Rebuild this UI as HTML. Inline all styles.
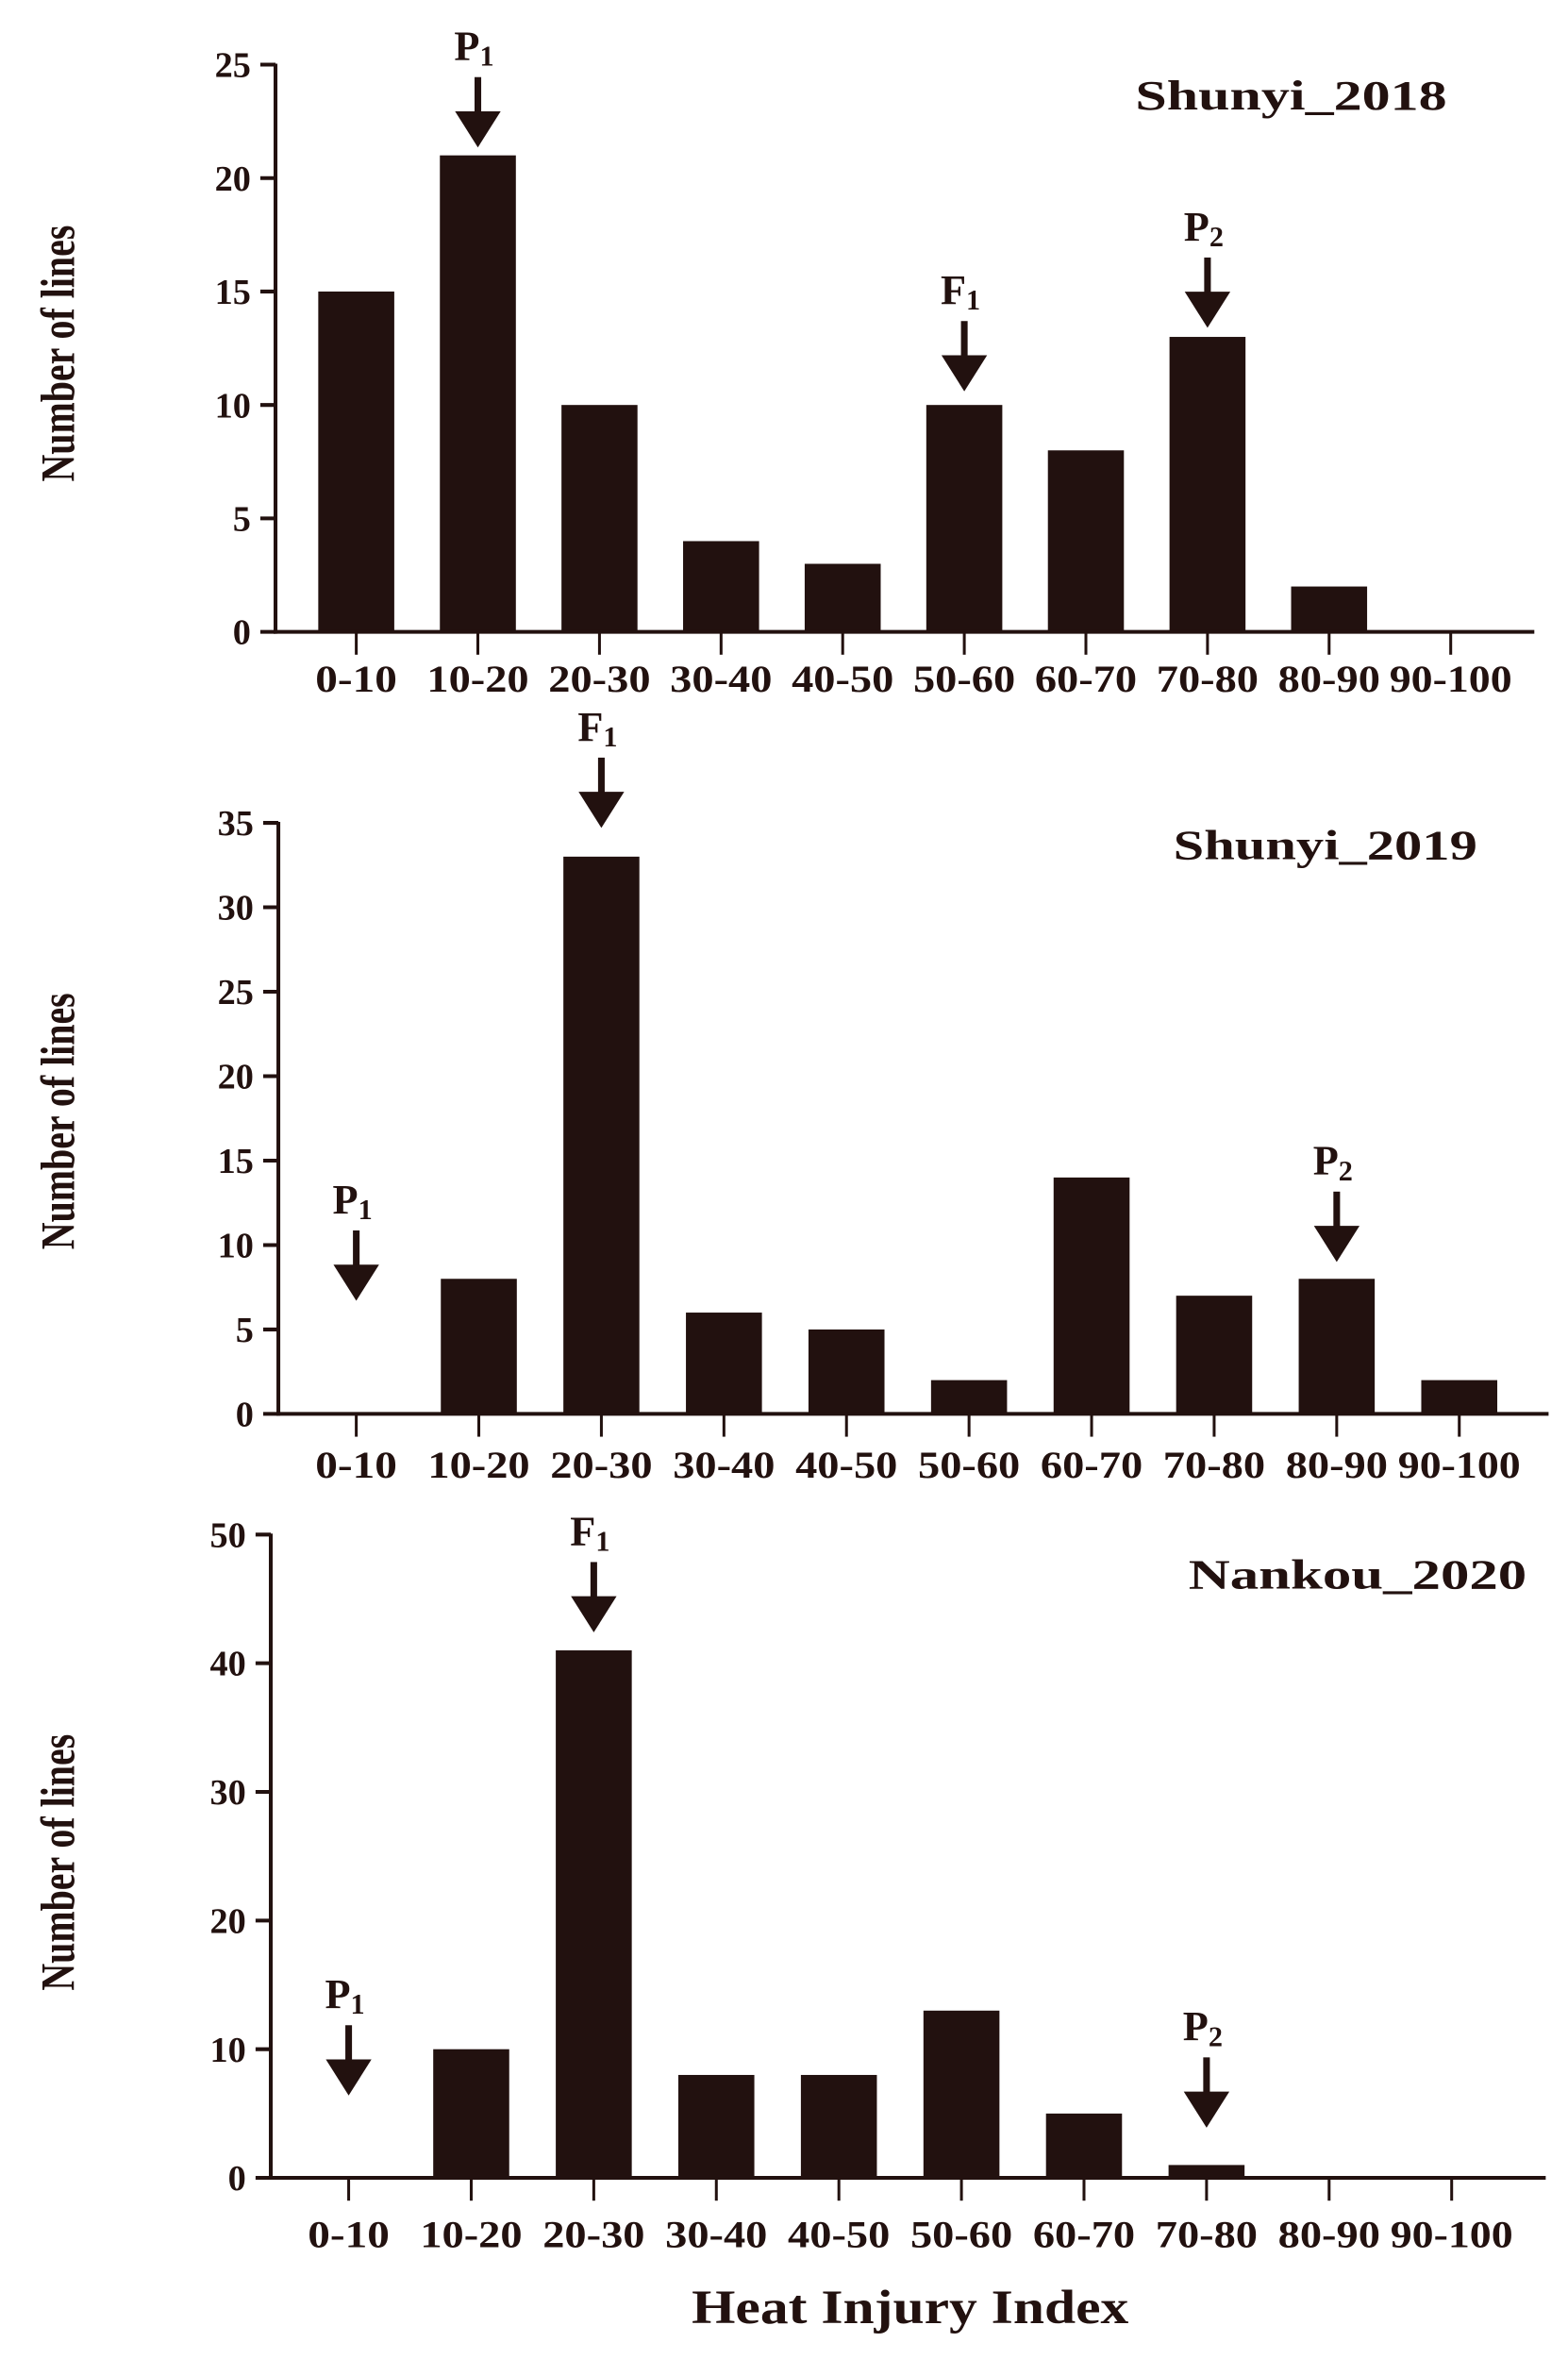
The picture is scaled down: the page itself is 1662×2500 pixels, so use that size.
<!DOCTYPE html>
<html><head><meta charset="utf-8"><style>
html,body{margin:0;padding:0;background:#fff;}
svg{display:block;}
text{font-family:"Liberation Serif",serif;font-weight:bold;fill:#22110f;}
</style></head><body>
<svg width="1662" height="2500" viewBox="0 0 1662 2500" xmlns="http://www.w3.org/2000/svg"><g id="fig" transform="scale(1.007)"></g></svg>
<script>
const categories = ["0-10","10-20","20-30","30-40","40-50","50-60","60-70","70-80","80-90","90-100"];
const values2018 = [15,21,10,4,3,10,8,13,2,0];
const values2019 = [0,8,33,6,5,2,14,7,8,2];
const values2020 = [0,10,41,8,8,13,5,1,0,0];
const ticks2018 = [0,5,10,15,20,25];
const ticks2019 = [0,5,10,15,20,25,30,35];
const ticks2020 = [0,10,20,30,40,50];
const arrowCats2018 = [1,5,7];
const arrowTips2018 = [21.35,10.6,13.4];
const arrowLabels2018 = ["P1","F1","P2"];
const arrowCats2019 = [2,0,8];
const arrowTips2019 = [34.7,6.7,9.0];
const arrowLabels2019 = ["F1","P1","P2"];
const arrowCats2020 = [2,0,7];
const arrowTips2020 = [42.4,6.4,3.9];
const arrowLabels2020 = ["F1","P1","P2"];

const NS = "http://www.w3.org/2000/svg";
const svg = document.getElementById('fig');
const C = "#22110f";
function mk(tag, attrs, parent){
  const e = document.createElementNS(NS, tag);
  for (const k in attrs) e.setAttribute(k, attrs[k]);
  (parent||svg).appendChild(e);
  return e;
}

const panels = [
  {id:"2018", title:"Shunyi_2018", vals:values2018, ticks:ticks2018, max:25, ax:290, y0:665, yTop:68, xEnd:1615, c0:375, step:128, ly:728, tx:1523, ty:115, titleW:328, aCats:arrowCats2018, aTips:arrowTips2018, aLab:arrowLabels2018, ylabY:372},
  {id:"2019", title:"Shunyi_2019", vals:values2019, ticks:ticks2019, max:35, ax:293, y0:1488, yTop:866, xEnd:1630, c0:375, step:129, ly:1555, tx:1555, ty:904, titleW:320, aCats:arrowCats2019, aTips:arrowTips2019, aLab:arrowLabels2019, ylabY:1180},
  {id:"2020", title:"Nankou_2020", vals:values2020, ticks:ticks2020, max:50, ax:285, y0:2292, yTop:1615, xEnd:1627, c0:367, step:129, ly:2365, tx:1607, ty:1672, titleW:356, aCats:arrowCats2020, aTips:arrowTips2020, aLab:arrowLabels2020, ylabY:1960}
];

panels.forEach(p => {
  const g = mk('g', {});
  
  
  const yScale = v => p.y0 - (v / p.max) * (p.y0 - p.yTop);
  const xScale = i => p.c0 + i * p.step;
  const bw = 80;
  p.vals.forEach((v, i) => {
    if (v <= 0) return;
    const r = mk('rect', {x: xScale(i) - bw/2, y: yScale(v), width: bw, height: p.y0 - yScale(v), fill: C}, g);
    
    
  });
  const ya = mk('line', {x1:p.ax, y1:p.yTop-1, x2:p.ax, y2:p.y0+2, stroke:C, 'stroke-width':4}, g);
  
  
  p.ticks.forEach(t => {
    const y = yScale(t);
    mk('line', {x1:p.ax-16, y1:y, x2:p.ax, y2:y, stroke:C, 'stroke-width':4}, g);
    const s = String(t);
    const tl = mk('text', {x:p.ax-26, y:y+13, 'text-anchor':'end', 'font-size':38, textLength:s.length*19, lengthAdjust:'spacingAndGlyphs'}, g);
    tl.textContent = s;
    
    
  });
  const xa = mk('line', {x1:p.ax-2, y1:p.y0, x2:p.xEnd, y2:p.y0, stroke:C, 'stroke-width':4}, g);
  
  
  categories.forEach((c, i) => {
    const x = xScale(i);
    mk('line', {x1:x, y1:p.y0, x2:x, y2:p.y0+24, stroke:C, 'stroke-width':3}, g);
    const tl = mk('text', {x:x, y:p.ly, 'text-anchor':'middle', 'font-size':40, textLength: c.length*21.5, lengthAdjust:'spacingAndGlyphs'}, g);
    tl.textContent = c;
    
    
  });
  const tt = mk('text', {x:p.tx, y:p.ty, 'text-anchor':'end', 'font-size':44, textLength:p.titleW, lengthAdjust:'spacingAndGlyphs'}, g);
  tt.textContent = p.title;
  
  
  const yl = mk('text', {x:0, y:0, 'text-anchor':'middle', 'font-size':50, textLength:270, lengthAdjust:'spacingAndGlyphs', transform:`translate(78,${p.ylabY}) rotate(-90)`}, g);
  yl.textContent = 'Number of lines';
  
  
  p.aCats.forEach((ci, k) => {
    const x = xScale(ci);
    const tip = yScale(p.aTips[k]);
    const ag = mk('g', {}, g);
    
    
    mk('rect', {x:x-3.5, y:tip-74, width:7, height:40, fill:C}, ag);
    mk('polygon', {points:`${x-24},${tip-38} ${x+24},${tip-38} ${x},${tip}`, fill:C}, ag);
    const lab = mk('text', {x:x-4, y:tip-92, 'text-anchor':'middle', 'font-size':44}, ag);
    const a = document.createElementNS(NS, 'tspan');
    a.textContent = p.aLab[k][0];
    lab.appendChild(a);
    const b = document.createElementNS(NS, 'tspan');
    b.setAttribute('font-size', '30');
    b.setAttribute('dy', '6');
    b.textContent = p.aLab[k].slice(1);
    lab.appendChild(b);
    
    
  });
});

const xt = mk('text', {x:958, y:2445, 'text-anchor':'middle', 'font-size':50, textLength:460, lengthAdjust:'spacingAndGlyphs'});
xt.textContent = 'Heat Injury Index';


</script>
</body></html>
